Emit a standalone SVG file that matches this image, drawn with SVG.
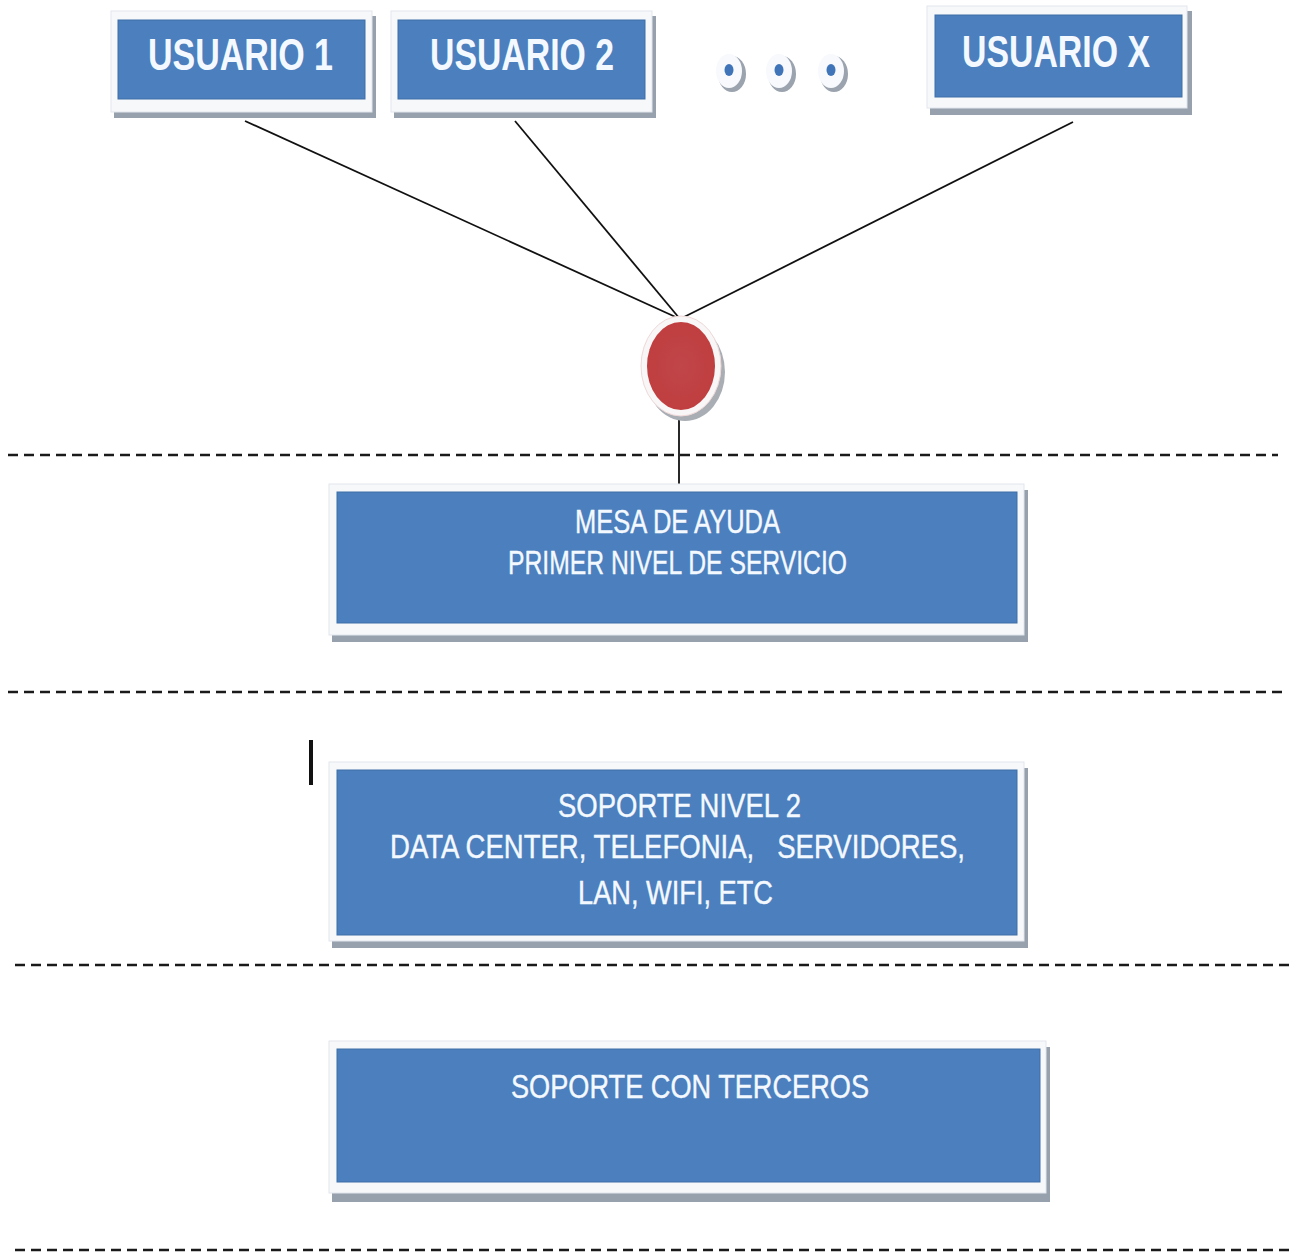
<svg xmlns="http://www.w3.org/2000/svg" width="1296" height="1253" viewBox="0 0 1296 1253">
<defs>
<style>
.frame{fill:#f6f8fa;stroke:#e2e6ec;stroke-width:1}
.shadow{fill:#97a1ad}
.blue{fill:#4b7fbd;stroke:#3f6fa8;stroke-width:1}
.ut{font-family:"Liberation Sans",Arial,sans-serif;font-weight:bold;font-size:44px;fill:#f4f9ff}
.bt{font-family:"Liberation Sans",Arial,sans-serif;font-size:33px;fill:#f4f9ff;stroke:#f4f9ff;stroke-width:0.4;text-anchor:start;white-space:pre}
.conn{stroke:#111;stroke-width:1.8;fill:none}
.dash{stroke:#1a1a1a;stroke-width:2.4;stroke-dasharray:10 6;fill:none}
</style>
<radialGradient id="red" cx="0.5" cy="0.5" r="0.5">
<stop offset="0" stop-color="#c0464a"/>
<stop offset="1" stop-color="#c03e3f"/>
</radialGradient>
</defs>
<rect width="1296" height="1253" fill="#ffffff"/>

<g id="separators">
<line class="dash" x1="8" y1="455" x2="1278" y2="455"/>
<line class="dash" x1="8" y1="692" x2="1285" y2="692"/>
<line class="dash" x1="15" y1="965" x2="1295" y2="965"/>
<line class="dash" x1="15" y1="1250" x2="1295" y2="1250"/>
</g>

<g id="connectors">
<line class="conn" x1="245" y1="121" x2="680" y2="319"/>
<line class="conn" x1="515" y1="121" x2="680" y2="319"/>
<line class="conn" x1="1073" y1="122" x2="680" y2="319"/>
<line class="conn" x1="679" y1="414" x2="679" y2="489"/>
</g>

<g id="usuario1">
<rect class="shadow" x="114" y="16" width="262" height="102"/>
<rect class="frame" x="111" y="11" width="261" height="101"/>
<rect class="blue" x="118" y="20" width="247" height="79"/>
<text class="ut" x="148" y="70" textLength="185" lengthAdjust="spacingAndGlyphs">USUARIO 1</text>
</g>

<g id="usuario2">
<rect class="shadow" x="394" y="16" width="262" height="102"/>
<rect class="frame" x="391" y="11" width="261" height="101"/>
<rect class="blue" x="398" y="20" width="247" height="79"/>
<text class="ut" x="430" y="70" textLength="184" lengthAdjust="spacingAndGlyphs">USUARIO 2</text>
</g>

<g id="dots">
<ellipse cx="732" cy="74" rx="14" ry="18" fill="#9aa3ae"/>
<ellipse cx="729" cy="71" rx="13" ry="17" fill="#f7f9fc"/>
<ellipse cx="729" cy="70" rx="4.5" ry="6" fill="#3f74b8"/>
<ellipse cx="782" cy="74" rx="14" ry="18" fill="#9aa3ae"/>
<ellipse cx="779" cy="71" rx="13" ry="17" fill="#f7f9fc"/>
<ellipse cx="779" cy="70" rx="4.5" ry="6" fill="#3f74b8"/>
<ellipse cx="834" cy="74" rx="14" ry="18" fill="#9aa3ae"/>
<ellipse cx="831" cy="71" rx="13" ry="17" fill="#f7f9fc"/>
<ellipse cx="831" cy="70" rx="4.5" ry="6" fill="#3f74b8"/>
</g>

<g id="usuariox">
<rect class="shadow" x="930" y="11" width="262" height="104"/>
<rect class="frame" x="927" y="6" width="260" height="102"/>
<rect class="blue" x="935" y="15" width="247" height="82"/>
<text class="ut" x="962" y="67" textLength="188" lengthAdjust="spacingAndGlyphs">USUARIO X</text>
</g>

<g id="hub">
<ellipse cx="685" cy="372" rx="40" ry="49" fill="#a9aeb5"/>
<ellipse cx="681" cy="366" rx="40" ry="50" fill="#f8f6f6" stroke="#f0d8d8" stroke-width="1"/>
<ellipse cx="681" cy="366" rx="34" ry="44" fill="url(#red)"/>
</g>

<g id="mesa">
<rect class="shadow" x="332" y="490" width="696" height="152"/>
<rect class="frame" x="329" y="484" width="695" height="151"/>
<rect class="blue" x="337" y="492" width="680" height="131"/>
<text class="bt" x="575" y="533" textLength="205" lengthAdjust="spacingAndGlyphs">MESA DE AYUDA</text>
<text class="bt" x="508" y="574" textLength="339" lengthAdjust="spacingAndGlyphs">PRIMER NIVEL DE SERVICIO</text>
</g>

<g id="marker">
<rect x="309" y="740" width="4" height="45" fill="#111"/>
</g>

<g id="nivel2">
<rect class="shadow" x="332" y="768" width="696" height="180"/>
<rect class="frame" x="329" y="762" width="695" height="179"/>
<rect class="blue" x="337" y="770" width="680" height="165"/>
<text class="bt" x="558" y="817" textLength="243" lengthAdjust="spacingAndGlyphs">SOPORTE NIVEL 2</text>
<text class="bt" x="390" y="858" textLength="575" lengthAdjust="spacingAndGlyphs">DATA CENTER, TELEFONIA,   SERVIDORES,</text>
<text class="bt" x="578" y="904" textLength="195" lengthAdjust="spacingAndGlyphs">LAN, WIFI, ETC</text>
</g>

<g id="terceros">
<rect class="shadow" x="332" y="1047" width="718" height="155"/>
<rect class="frame" x="329" y="1041" width="717" height="152"/>
<rect class="blue" x="337" y="1049" width="703" height="133"/>
<text class="bt" x="511" y="1098" textLength="358" lengthAdjust="spacingAndGlyphs">SOPORTE CON TERCEROS</text>
</g>
</svg>
